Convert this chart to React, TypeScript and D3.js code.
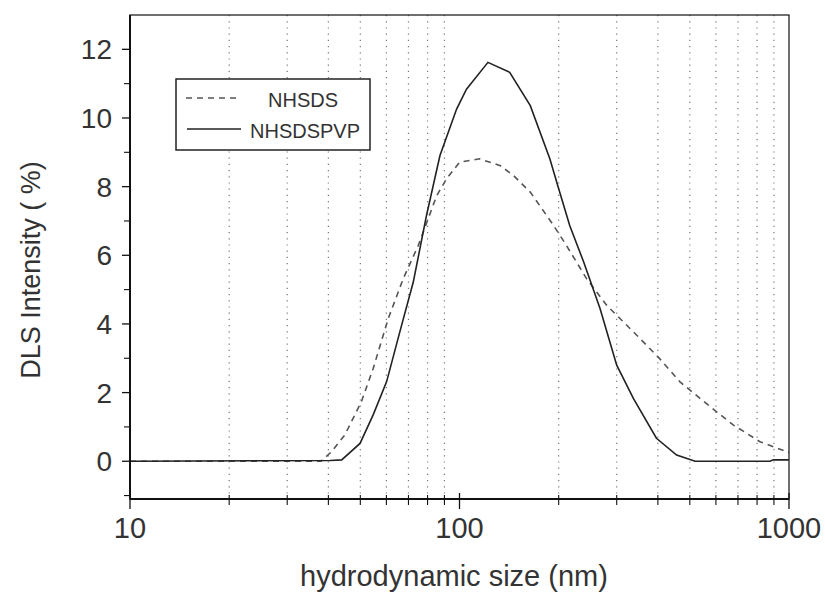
import React from "react";
import * as d3 from "d3";

// NHSDSPVP (solid) — size in nm, intensity in %
const pvpSize = [10, 40.5, 43.9, 49.9, 54.7, 60.1, 65.9, 72.4, 79.4, 87.2, 98, 105, 122, 142, 164, 188, 200, 216, 238, 267, 300, 337, 396, 456, 519, 875, 896, 1000];
const pvpValue = [0, 0.02, 0.04, 0.52, 1.35, 2.32, 3.77, 5.22, 7.16, 8.9, 10.26, 10.84, 11.62, 11.33, 10.36, 8.81, 7.94, 6.87, 5.81, 4.45, 2.8, 1.83, 0.67, 0.18, 0, 0, 0.04, 0.04];

// NHSDS (dashed)
const sdsSize = [10, 38, 40.9, 44.9, 50.4, 54.7, 60.8, 67.5, 75, 85.3, 91.4, 100, 115, 133, 146, 164, 193, 211, 243, 280, 337, 405, 466, 537, 603, 677, 816, 984, 1000];
const sdsValue = [0, 0, 0.28, 0.77, 1.74, 2.7, 4.16, 5.32, 6.29, 7.74, 8.23, 8.71, 8.81, 8.61, 8.32, 7.84, 6.87, 6.29, 5.32, 4.54, 3.77, 2.99, 2.32, 1.83, 1.44, 1.06, 0.57, 0.28, 0.25];

const xMajor = [10, 100, 1000];
const xMinor = [20, 30, 40, 50, 60, 70, 80, 90, 200, 300, 400, 500, 600, 700, 800, 900];
const yMajor = [0, 2, 4, 6, 8, 10, 12];
const yMinor = [-1, 1, 3, 5, 7, 9, 11];

const font = "'Liberation Sans', Arial, sans-serif";
const textColor = "#333";

export default function App() {
  const W = 825, H = 594;
  const left = 130, right = 789, top = 15, bottom = 499;

  const x = d3.scaleLog().domain([10, 1000]).range([left, right]);
  const y = d3.scaleLinear().domain([-1.1, 13]).range([bottom, top]);

  const line = d3.line<[number, number]>().x((d) => x(d[0])).y((d) => y(d[1]));
  const pvpPath = line(pvpSize.map((s, i) => [s, pvpValue[i]]));
  const sdsPath = line(sdsSize.map((s, i) => [s, sdsValue[i]]));

  return (
    <svg width={W} height={H} style={{ position: "absolute", left: 0, top: 0, background: "#fff" }}>
      {/* vertical dotted grid */}
      {xMinor.map((v) => (
        <line key={"g" + v} x1={x(v)} x2={x(v)} y1={top} y2={bottom} stroke="#777" strokeWidth={1.2} strokeDasharray="1.2 5" />
      ))}

      {/* curves */}
      <path d={sdsPath || ""} fill="none" stroke="#555" strokeWidth={1.6} strokeDasharray="6 5" />
      <path d={pvpPath || ""} fill="none" stroke="#222" strokeWidth={1.6} />

      {/* frame */}
      <rect x={left} y={top} width={right - left} height={bottom - top} fill="none" stroke="#222" strokeWidth={1.3} />
      <line x1={left} x2={right} y1={bottom} y2={bottom} stroke="#111" strokeWidth={2} />
      <line x1={left} x2={left} y1={top} y2={bottom} stroke="#111" strokeWidth={2} />

      {/* x ticks */}
      {xMajor.map((v) => (
        <g key={"xm" + v}>
          <line x1={x(v)} x2={x(v)} y1={bottom - 6} y2={bottom + 10} stroke="#111" strokeWidth={1.3} />
          <text x={x(v)} y={bottom + 39} textAnchor="middle" fontFamily={font} fontSize={29} fill={textColor}>{v}</text>
        </g>
      ))}
      {xMinor.map((v) => (
        <line key={"xn" + v} x1={x(v)} x2={x(v)} y1={bottom - 4} y2={bottom + 6} stroke="#111" strokeWidth={1.1} />
      ))}

      {/* y ticks */}
      {yMajor.map((v) => (
        <g key={"ym" + v}>
          <line x1={left - 8} x2={left} y1={y(v)} y2={y(v)} stroke="#111" strokeWidth={1.3} />
          <text x={left - 18} y={y(v) + 10} textAnchor="end" fontFamily={font} fontSize={28} fill={textColor}>{v}</text>
        </g>
      ))}
      {yMinor.map((v) => (
        <line key={"yn" + v} x1={left - 6} x2={left} y1={y(v)} y2={y(v)} stroke="#111" strokeWidth={1.1} />
      ))}

      {/* axis titles */}
      <text x={454} y={586} textAnchor="middle" fontFamily={font} fontSize={29} fill={textColor}>hydrodynamic size (nm)</text>
      <text transform={`translate(40, 270) rotate(-90)`} textAnchor="middle" fontFamily={font} fontSize={27} fill={textColor}>DLS Intensity ( %)</text>

      {/* legend */}
      <rect x={176} y={79} width={194} height={71} fill="#fff" stroke="#222" strokeWidth={1.5} />
      <line x1={186} x2={240} y1={98} y2={98} stroke="#555" strokeWidth={1.6} strokeDasharray="6 5" />
      <text x={268} y={107} fontFamily={font} fontSize={20} fill={textColor}>NHSDS</text>
      <line x1={187} x2={241} y1={129} y2={129} stroke="#222" strokeWidth={1.6} />
      <text x={250} y={138} fontFamily={font} fontSize={20} fill={textColor}>NHSDSPVP</text>
    </svg>
  );
}
